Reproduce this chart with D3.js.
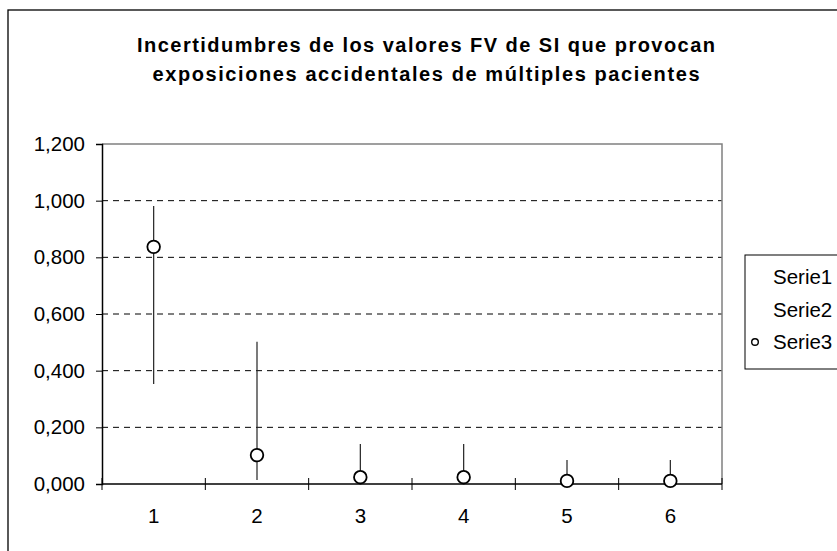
<!DOCTYPE html>
<html>
<head>
<meta charset="utf-8">
<script src="https://cdn.jsdelivr.net/npm/d3@7"></script>
<style>
  body { margin: 0; background: #fff; }
  svg { display: block; font-family: "Liberation Sans", Arial, sans-serif; }
</style>
</head>
<body>
<div id="chart"></div>
<script>
// dati
var categorie = ["1", "2", "3", "4", "5", "6"];
var serie1 = [0.981, 0.502, 0.141, 0.141, 0.085, 0.085];   // massimo
var serie2 = [0.353, 0.014, 0.005, 0.005, 0.002, 0.002];   // minimo
var serie3 = [0.837, 0.102, 0.024, 0.024, 0.011, 0.011];   // valore
var tickY = [0, 0.2, 0.4, 0.6, 0.8, 1.0, 1.2];
var nomiSerie = ["Serie1", "Serie2", "Serie3"];
var titolo = ["Incertidumbres de los valores FV de SI que provocan",
              "exposiciones accidentales de múltiples pacientes"];

var width = 837;
var height = 551;
var plot = { left: 102, right: 722, top: 144, bottom: 484 };
var fontAssi = "20.5px";

var svg = d3.select("#chart")
            .append("svg")
            .attr("width", width)
            .attr("height", height);

// bordo esterno del grafico
svg.append("rect")
   .attr("x", 8)
   .attr("y", 10)
   .attr("width", 900)
   .attr("height", 600)
   .attr("fill", "none")
   .attr("stroke", "#000")
   .attr("stroke-width", 1.3);

// titolo
svg.selectAll("text.titolo")
   .data(titolo)
   .enter()
   .append("text")
   .attr("class", "titolo")
   .attr("x", 426)
   .attr("y", function(d, i) { return 52 + i * 29; })
   .attr("text-anchor", "middle")
   .attr("font-size", "20px")
   .attr("font-weight", "bold")
   .attr("textLength", function(d, i) { return i == 0 ? 578 : 547; })
   .attr("lengthAdjust", "spacing")
   .text(function(d) { return d; });

var x = d3.scaleBand()
          .domain(categorie)
          .range([plot.left, plot.right]);

var y = d3.scaleLinear()
          .domain([0, 1.2])
          .range([plot.bottom, plot.top]);

var locale = d3.formatLocale({ decimal: ",", thousands: ".", grouping: [3], currency: ["", ""] });
var fmt = locale.format(".3f");

// griglia tratteggiata
svg.append("g")
   .selectAll("line")
   .data(tickY.filter(function(d) { return d > 0 && d < 1.2; }))
   .enter()
   .append("line")
   .attr("x1", plot.left)
   .attr("x2", plot.right)
   .attr("y1", function(d) { return y(d); })
   .attr("y2", function(d) { return y(d); })
   .attr("stroke", "#000")
   .attr("stroke-width", 1)
   .attr("stroke-dasharray", "6,5");

// bordo superiore e destro dell'area (grigio)
svg.append("path")
   .attr("d", "M" + plot.left + "," + plot.top + "H" + plot.right + "V" + plot.bottom)
   .attr("fill", "none")
   .attr("stroke", "#808080")
   .attr("stroke-width", 1.5);

// asse y
var assey = svg.append("g")
               .attr("transform", "translate(" + plot.left + ",0)")
               .call(d3.axisLeft(y).tickValues(tickY).tickFormat(fmt).tickSize(6).tickPadding(11));
assey.select(".domain").attr("stroke", "#000").attr("stroke-width", 1.5);
assey.selectAll("text").attr("font-size", fontAssi).attr("font-family", "Liberation Sans, Arial, sans-serif").attr("fill", "#000");

// asse x
svg.append("line")
   .attr("x1", plot.left)
   .attr("x2", plot.right)
   .attr("y1", plot.bottom)
   .attr("y2", plot.bottom)
   .attr("stroke", "#000")
   .attr("stroke-width", 1.5);

var confini = categorie.map(function(c) { return x(c); }).concat([plot.right]);
svg.append("g")
   .selectAll("line")
   .data(confini)
   .enter()
   .append("line")
   .attr("x1", function(d) { return d; })
   .attr("x2", function(d) { return d; })
   .attr("y1", plot.bottom - 6)
   .attr("y2", plot.bottom + 6)
   .attr("stroke", "#000")
   .attr("stroke-width", 1);

svg.append("g")
   .selectAll("text")
   .data(categorie)
   .enter()
   .append("text")
   .attr("x", function(d) { return x(d) + x.bandwidth() / 2; })
   .attr("y", 523)
   .attr("text-anchor", "middle")
   .attr("font-size", fontAssi)
   .text(function(d) { return d; });

// linee massimo-minimo
svg.append("g")
   .selectAll("line")
   .data(categorie)
   .enter()
   .append("line")
   .attr("x1", function(d) { return x(d) + x.bandwidth() / 2; })
   .attr("x2", function(d) { return x(d) + x.bandwidth() / 2; })
   .attr("y1", function(d, i) { return y(serie1[i]); })
   .attr("y2", function(d, i) { return y(serie2[i]); })
   .attr("stroke", "#222")
   .attr("stroke-width", 1.2);

// marcatori Serie3
svg.append("g")
   .selectAll("circle")
   .data(categorie)
   .enter()
   .append("circle")
   .attr("cx", function(d) { return x(d) + x.bandwidth() / 2; })
   .attr("cy", function(d, i) { return y(serie3[i]); })
   .attr("r", 6.3)
   .attr("fill", "#fff")
   .attr("stroke", "#000")
   .attr("stroke-width", 1.8);

// legenda
var leg = svg.append("g");
leg.append("rect")
   .attr("x", 745)
   .attr("y", 255)
   .attr("width", 200)
   .attr("height", 114)
   .attr("fill", "#fff")
   .attr("stroke", "#000")
   .attr("stroke-width", 1);

leg.selectAll("text")
   .data(nomiSerie)
   .enter()
   .append("text")
   .attr("x", 773)
   .attr("y", function(d, i) { return 284 + i * 32.5; })
   .attr("font-size", fontAssi)
   .text(function(d) { return d; });

leg.append("circle")
   .attr("cx", 755)
   .attr("cy", 342)
   .attr("r", 3.3)
   .attr("fill", "#fff")
   .attr("stroke", "#000")
   .attr("stroke-width", 1.4);
</script>
</body>
</html>
